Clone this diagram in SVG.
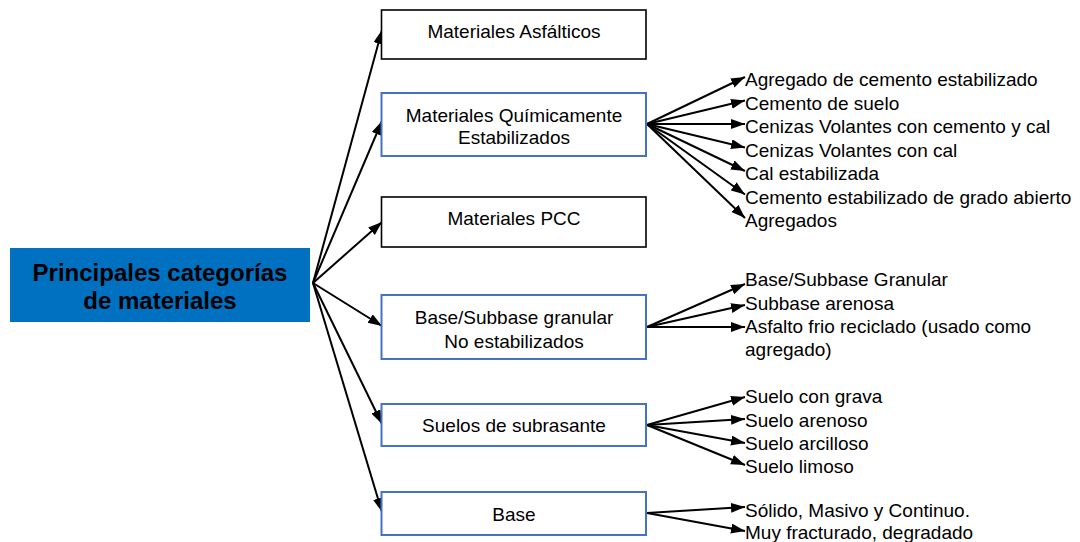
<svg xmlns="http://www.w3.org/2000/svg" width="1080" height="542" viewBox="0 0 1080 542">
<style>
.box{fill:#fff;stroke-width:1.6}
.bk{stroke:#000}
.bl{stroke:#4472C4;stroke-width:2}
.t{font-family:"Liberation Sans",Arial,sans-serif;font-size:19px;fill:#000}
.c{text-anchor:middle}
.main{font-family:"Liberation Sans",Arial,sans-serif;font-size:24px;font-weight:bold;fill:#000;text-anchor:middle}
.ln{stroke:#000;stroke-width:2;fill:none;marker-end:url(#ah)}
</style>
<defs>
<marker id="ah" markerUnits="userSpaceOnUse" markerWidth="15" markerHeight="11" refX="14" refY="5" orient="auto">
<path d="M0,0 L14,5 L0,10 z" fill="#000"/>
</marker>
</defs>
<rect width="1080" height="542" fill="#fff"/>
<g id="connectors">
<line class="ln" x1="313" y1="283" x2="382" y2="30"/>
<line class="ln" x1="313" y1="283" x2="382" y2="121"/>
<line class="ln" x1="313" y1="283" x2="382" y2="222"/>
<line class="ln" x1="313" y1="283" x2="382" y2="326"/>
<line class="ln" x1="313" y1="283" x2="382" y2="424"/>
<line class="ln" x1="313" y1="283" x2="382" y2="512"/>
<line class="ln" x1="647" y1="124" x2="745" y2="77"/>
<line class="ln" x1="647" y1="124" x2="745" y2="100.5"/>
<line class="ln" x1="647" y1="124" x2="745" y2="124"/>
<line class="ln" x1="647" y1="124" x2="745" y2="147.5"/>
<line class="ln" x1="647" y1="124" x2="745" y2="171"/>
<line class="ln" x1="647" y1="124" x2="745" y2="194.5"/>
<line class="ln" x1="647" y1="124" x2="745" y2="218"/>
<line class="ln" x1="647" y1="327" x2="745" y2="284"/>
<line class="ln" x1="647" y1="327" x2="745" y2="305"/>
<line class="ln" x1="647" y1="327" x2="745" y2="327"/>
<line class="ln" x1="647" y1="425" x2="745" y2="397"/>
<line class="ln" x1="647" y1="425" x2="745" y2="419"/>
<line class="ln" x1="647" y1="425" x2="745" y2="443"/>
<line class="ln" x1="647" y1="425" x2="745" y2="465"/>
<line class="ln" x1="647" y1="513" x2="745" y2="507"/>
<line class="ln" x1="647" y1="513" x2="745" y2="531"/>
</g>
<g id="root">
<rect x="10" y="248" width="300" height="74" fill="#0070C0"/>
<text class="main" x="160" y="280.5">Principales categorías</text>
<text class="main" x="160" y="309">de materiales</text>
</g>
<g id="n-asfalticos">
<rect class="box bk" x="381.5" y="10" width="264.5" height="49"/>
<text class="t c" x="514" y="37.5">Materiales Asfálticos</text>
</g>
<g id="n-quimicos">
<rect class="box bl" x="381.5" y="93" width="264.5" height="63"/>
<text class="t c" x="514" y="121.5">Materiales Químicamente</text>
<text class="t c" x="514" y="143.5">Estabilizados</text>
</g>
<g id="n-pcc">
<rect class="box bk" x="381.5" y="197" width="264.5" height="50"/>
<text class="t c" x="514" y="225">Materiales PCC</text>
</g>
<g id="n-granular">
<rect class="box bl" x="381.5" y="295" width="264.5" height="64"/>
<text class="t c" x="514" y="323.5">Base/Subbase granular</text>
<text class="t c" x="514" y="347.5">No estabilizados</text>
</g>
<g id="n-subrasante">
<rect class="box bl" x="381.5" y="404" width="264.5" height="42"/>
<text class="t c" x="514" y="431.5">Suelos de subrasante</text>
</g>
<g id="n-base">
<rect class="box bl" x="381.5" y="492" width="264.5" height="43"/>
<text class="t c" x="514" y="521">Base</text>
</g>
<g id="labels-quimicos">
<text class="t" x="745" y="86">Agregado de cemento estabilizado</text>
<text class="t" x="745" y="109.5">Cemento de suelo</text>
<text class="t" x="745" y="133">Cenizas Volantes con cemento y cal</text>
<text class="t" x="745" y="156.5">Cenizas Volantes con cal</text>
<text class="t" x="745" y="180">Cal estabilizada</text>
<text class="t" x="745" y="203.5">Cemento estabilizado de grado abierto</text>
<text class="t" x="745" y="227">Agregados</text>
</g>
<g id="labels-granular">
<text class="t" x="745" y="286">Base/Subbase Granular</text>
<text class="t" x="745" y="310">Subbase arenosa</text>
<text class="t" x="745" y="333">Asfalto frio reciclado (usado como</text>
<text class="t" x="745" y="356">agregado)</text>
</g>
<g id="labels-subrasante">
<text class="t" x="745" y="403">Suelo con grava</text>
<text class="t" x="745" y="426.5">Suelo arenoso</text>
<text class="t" x="745" y="450">Suelo arcilloso</text>
<text class="t" x="745" y="473">Suelo limoso</text>
</g>
<g id="labels-base">
<text class="t" x="745" y="516.5">Sólido, Masivo y Continuo.</text>
<text class="t" x="745" y="539">Muy fracturado, degradado</text>
</g>
</svg>
